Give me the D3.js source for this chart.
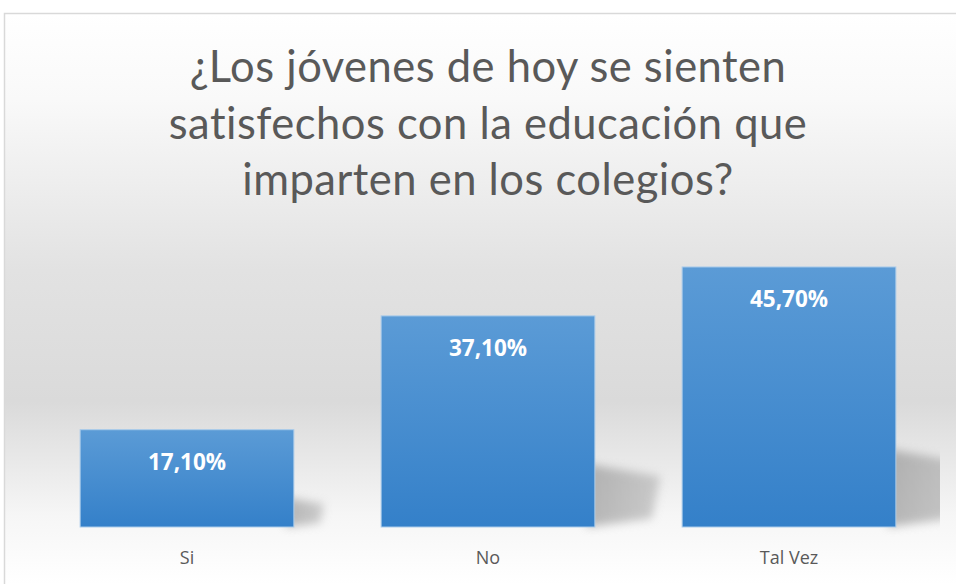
<!DOCTYPE html>
<html><head><meta charset="utf-8">
<script src="https://cdn.jsdelivr.net/npm/d3@7"></script>
<style>html,body{margin:0;padding:0;background:#fff;overflow:hidden}</style>
</head><body>
<script>
const categories = ["Si", "No", "Tal Vez"];
const values = [17.10, 37.10, 45.70];
const valueLabels = ["17,10%", "37,10%", "45,70%"];
const titleLines = ["¿Los jóvenes de hoy se sienten", "satisfechos con la educación que", "imparten en los colegios?"];

const W = 956, H = 584;
const svg = d3.select("body").append("svg").attr("width", W).attr("height", H);
const defs = svg.append("defs");

const bg = defs.append("linearGradient").attr("id","bg").attr("x1",0).attr("y1",0).attr("x2",0).attr("y2",1)
  .attr("gradientUnits","userSpaceOnUse").attr("y1",14).attr("y2",584).attr("x1",0).attr("x2",0);
bg.append("stop").attr("offset","0%").attr("stop-color","#ffffff");
bg.append("stop").attr("offset","15%").attr("stop-color","#f9f9f9");
bg.append("stop").attr("offset","45%").attr("stop-color","#e2e2e2");
bg.append("stop").attr("offset","68%").attr("stop-color","#dadada");
bg.append("stop").attr("offset","88%").attr("stop-color","#f6f6f6");
bg.append("stop").attr("offset","100%").attr("stop-color","#ffffff");

const bar = defs.append("linearGradient").attr("id","bar").attr("x1",0).attr("y1",0).attr("x2",0).attr("y2",1);
bar.append("stop").attr("offset","0%").attr("stop-color","#5b9bd6");
bar.append("stop").attr("offset","100%").attr("stop-color","#3480c9");

const shg = defs.append("linearGradient").attr("id","shg").attr("x1",0).attr("y1",0).attr("x2",1).attr("y2",0);
shg.append("stop").attr("offset","0%").attr("stop-color","#8a8a8a");
shg.append("stop").attr("offset","100%").attr("stop-color","#b0b0b0");

const blur = defs.append("filter").attr("id","blur").attr("x","-50%").attr("y","-50%").attr("width","200%").attr("height","200%");
blur.append("feGaussianBlur").attr("stdDeviation", 5);
defs.append("clipPath").attr("id","plotclip").append("rect").attr("x",0).attr("y",0).attr("width",940).attr("height",584);

// chart frame
svg.append("rect").attr("x",4.5).attr("y",13.5).attr("width",W+10).attr("height",H+10)
  .attr("fill","url(#bg)").attr("stroke","#d9d9d9").attr("stroke-width",1.5);

// title
const title = svg.append("g").attr("font-family","Lato, 'Open Sans', sans-serif").attr("fill","#595959")
  .attr("font-size",43.5).attr("letter-spacing",0.5).attr("text-anchor","middle");
titleLines.forEach((t,i)=>{
  title.append("text").attr("x",488).attr("y",82 + i*56.5).text(t);
});

const x = d3.scaleBand().domain(categories).range([36.5, 939.5]).paddingInner(0.29).paddingOuter(0.145);
const y = d3.scaleLinear().domain([0, 50]).range([527, 242.5]);

// shadows
const sh = svg.append("g").attr("clip-path","url(#plotclip)").append("g").attr("filter","url(#blur)").attr("opacity",0.6);
categories.forEach((c,i)=>{
  const x1 = x(c)+x.bandwidth(), yt = y(values[i]), yb = y(0);
  const h = yb - yt;
  sh.append("path")
    .attr("d", `M${x1-8},${yb} L${x1-8},${yb - h*0.3} L${x1 + h*0.31},${yb - h*0.24} L${x1 + h*0.27},${yb - h*0.04} Z`)
    .attr("fill","url(#shg)");
});

// bars
svg.append("g").selectAll("rect").data(categories).join("rect")
  .attr("x", d=>x(d)).attr("width", x.bandwidth())
  .attr("y", (d,i)=>y(values[i])).attr("height", (d,i)=>y(0)-y(values[i]))
  .attr("fill","url(#bar)").attr("stroke","#a9cbea").attr("stroke-width",1);

// value labels
svg.append("g").selectAll("text").data(categories).join("text")
  .attr("x", d=>x(d)+x.bandwidth()/2).attr("y",(d,i)=>y(values[i])+40)
  .attr("text-anchor","middle").attr("font-family","'Open Sans', sans-serif").attr("font-weight","bold")
  .attr("font-size",22.5).attr("fill","#ffffff").text((d,i)=>valueLabels[i]);

// x axis labels
const xAxis = d3.axisBottom(x).tickSize(0).tickPadding(24);
const gx = svg.append("g").attr("transform",`translate(0,${y(0)})`).call(xAxis);
gx.select(".domain").remove();
gx.selectAll("text").attr("font-family","'Open Sans', sans-serif").attr("font-size",18).attr("fill","#595959");
</script>
</body></html>
